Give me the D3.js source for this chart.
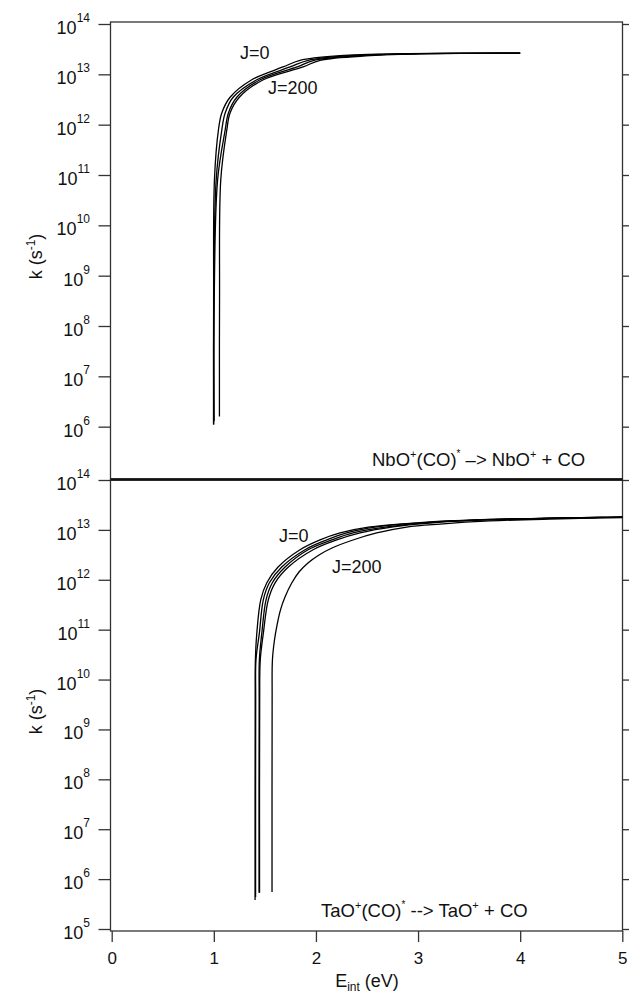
<!DOCTYPE html>
<html>
<head>
<meta charset="utf-8">
<script src="https://cdn.jsdelivr.net/npm/d3@7"></script>
<style>
  body { margin: 0; background: #fff; }
  svg { display: block; }
  text { font-family: "Liberation Sans", Arial, Helvetica, sans-serif; fill: #111; white-space: pre; }
</style>
</head>
<body>
<svg id="chart" width="629" height="994"></svg>
<script>
// ---- data: internal energy (eV) vs unimolecular rate constant k (s^-1) ----
const xTickValues = [0, 1, 2, 3, 4, 5];
const topExponents = [6, 7, 8, 9, 10, 11, 12, 13, 14];
const bottomExponents = [5, 6, 7, 8, 9, 10, 11, 12, 13, 14];

// NbO+(CO)* -> NbO+ + CO, one curve per rotational quantum number J
const nboJ0   = [[0.997,1.1e6],[0.998,3.3e8],[1.006,8.0e10],[1.045,7.8e11],[1.078,1.7e12],[1.159,3.5e12],[1.372,7.8e12],[1.678,1.4e13],[1.844,1.9e13],[2.236,2.35e13],[2.823,2.57e13],[4.0,2.63e13]];
const nboJ100 = [[0.999,1.1e6],[1.000,3.3e8],[1.023,8.0e10],[1.078,7.8e11],[1.111,1.7e12],[1.189,3.5e12],[1.421,7.8e12],[1.747,1.4e13],[1.923,1.9e13],[2.330,2.35e13],[2.920,2.57e13],[4.0,2.63e13]];
const nboJ150 = [[1.003,1.3e6],[1.004,3.3e8],[1.037,8.0e10],[1.111,7.8e11],[1.143,1.7e12],[1.225,3.5e12],[1.453,7.8e12],[1.815,1.4e13],[1.981,1.9e13],[2.430,2.35e13],[3.020,2.57e13],[4.0,2.63e13]];
const nboJ200 = [[1.055,1.6e6],[1.056,3.3e8],[1.068,8.0e10],[1.127,7.8e11],[1.159,1.7e12],[1.250,3.5e12],[1.485,7.8e12],[1.874,1.4e13],[2.040,1.9e13],[2.530,2.35e13],[3.110,2.57e13],[4.0,2.63e13]];

// TaO+(CO)* -> TaO+ + CO
const taoJ0   = [[1.404,3.8e5],[1.405,3.9e9],[1.407,2.5e10],[1.421,8.5e10],[1.460,4.0e11],[1.519,8.7e11],[1.629,1.8e12],[1.844,4.0e12],[2.040,6.3e12],[2.236,8.7e12],[2.529,1.15e13],[3.019,1.4e13],[3.606,1.6e13],[4.193,1.7e13],[4.780,1.78e13],[5.0,1.8e13]];
const taoJ50  = [[1.409,4.4e5],[1.410,3.9e9],[1.413,2.5e10],[1.446,8.5e10],[1.485,4.0e11],[1.544,8.7e11],[1.665,1.8e12],[1.893,4.0e12],[2.106,6.3e12],[2.301,8.7e12],[2.595,1.15e13],[3.070,1.4e13],[3.650,1.6e13],[4.220,1.7e13],[4.780,1.78e13],[5.0,1.8e13]];
const taoJ100 = [[1.443,5.3e5],[1.444,3.9e9],[1.446,2.5e10],[1.470,8.5e10],[1.512,4.0e11],[1.573,8.7e11],[1.698,1.8e12],[1.923,4.0e12],[2.155,6.3e12],[2.363,8.7e12],[2.693,1.15e13],[3.120,1.4e13],[3.680,1.6e13],[4.250,1.7e13],[4.800,1.78e13],[5.0,1.8e13]];
const taoJ150 = [[1.448,5.3e5],[1.449,3.9e9],[1.455,2.5e10],[1.485,8.5e10],[1.534,4.0e11],[1.600,8.7e11],[1.730,1.8e12],[1.972,4.0e12],[2.204,6.3e12],[2.432,8.7e12],[2.754,1.15e13],[3.170,1.4e13],[3.700,1.6e13],[4.270,1.7e13],[4.800,1.78e13],[5.0,1.8e13]];
const taoJ200 = [[1.570,5.5e5],[1.571,3.9e9],[1.574,2.5e10],[1.594,6.2e10],[1.619,1.24e11],[1.653,2.5e11],[1.697,4.5e11],[1.763,8.6e11],[1.834,1.43e12],[1.922,2.17e12],[2.030,3.14e12],[2.157,4.34e12],[2.363,6.27e12],[2.595,8.67e12],[2.888,1.14e13],[3.215,1.31e13],[3.704,1.51e13],[4.292,1.65e13],[5.0,1.77e13]];

const nboCurves = [nboJ0, nboJ100, nboJ150, nboJ200];
const taoCurves = [taoJ0, taoJ50, taoJ100, taoJ150, taoJ200];

// ---- layout ----
const svg = d3.select("#chart");
const FS = 18, FS_TICK_X = 17, FS_SMALL = 12;
const frameLeft = 110.5, frameRight = 622.5;
const panels = [
  { curves: nboCurves, exps: topExponents, frameTop: 22, frameBottom: 479,
    y: d3.scaleLog().domain([1e5, 1e14]).range([477, 24]) },
  { curves: taoCurves, exps: bottomExponents, frameTop: 480, frameBottom: 931,
    y: d3.scaleLog().domain([1e5, 1e14]).range([929, 480]) }
];
const x = d3.scaleLinear().domain([0, 5]).range([111.7, 622.3]);

// text with raised / lowered runs
function richText(parent, px, py, parts, anchor, transform, size) {
  const t = parent.append("text")
    .attr("x", px).attr("y", py)
    .attr("font-size", size || FS)
    .attr("text-anchor", anchor || "start");
  if (transform) t.attr("transform", transform);
  let shift = 0;
  parts.forEach(p => {
    const target = p.sup ? -p.sup : (p.sub ? p.sub : 0);
    const ts = t.append("tspan").attr("dy", target - shift).text(p.t);
    if (p.sup || p.sub) ts.attr("font-size", p.size || FS_SMALL);
    shift = target;
  });
  return t;
}

panels.forEach(p => {
  const g = svg.append("g");
  const ticks = p.exps.map(e => Math.pow(10, e));

  // left axis ticks
  g.append("g")
    .attr("transform", `translate(${frameLeft},0)`)
    .call(d3.axisLeft(p.y).tickValues(ticks).tickSize(12).tickSizeOuter(0).tickFormat(""))
    .call(a => a.select(".domain").remove())
    .selectAll("line").attr("stroke", "#333").attr("stroke-width", 1.3);

  // right axis mirror ticks
  g.append("g")
    .attr("transform", `translate(${frameRight},0)`)
    .call(d3.axisRight(p.y).tickValues(ticks).tickSize(8).tickSizeOuter(0).tickFormat(""))
    .call(a => a.select(".domain").remove())
    .selectAll("line").attr("stroke", "#333").attr("stroke-width", 1.3);

  // decade labels 10^n
  p.exps.forEach(e => {
    richText(g, 90, p.y(Math.pow(10, e)) + 10, [
      { t: "10" }, { t: String(e), sup: 12 }
    ], "end");
  });

  // frame
  g.append("rect")
    .attr("x", frameLeft).attr("y", p.frameTop)
    .attr("width", frameRight - frameLeft).attr("height", p.frameBottom - p.frameTop)
    .attr("fill", "none").attr("stroke", "#333").attr("stroke-width", 1.3);

  // curves
  const line = d3.line()
    .x(d => x(d[0]))
    .y(d => p.y(d[1]))
    .curve(d3.curveCatmullRom.alpha(0.5));
  g.selectAll("path.k").data(p.curves).join("path")
    .attr("class", "k")
    .attr("d", line)
    .attr("fill", "none")
    .attr("stroke", "#000")
    .attr("stroke-width", 1.3);

  // y title
  const cy = (p.frameTop + p.frameBottom) / 2 + 6;
  richText(g, 0, 0, [
    { t: "k (s" }, { t: "-1", sup: 7 }, { t: ")" }
  ], "middle", `translate(42,${cy}) rotate(-90)`);
});

// heavier divider between panels
svg.append("line")
  .attr("x1", frameLeft).attr("x2", frameRight)
  .attr("y1", 479.5).attr("y2", 479.5)
  .attr("stroke", "#111").attr("stroke-width", 2.6);

// x axis (bottom panel)
svg.append("g")
  .attr("transform", "translate(0,931)")
  .call(d3.axisBottom(x).tickValues(xTickValues).tickSize(11).tickPadding(10).tickSizeOuter(0).tickFormat(d3.format("d")))
  .call(a => a.select(".domain").remove())
  .call(a => a.selectAll("line").attr("stroke", "#333").attr("stroke-width", 1.3))
  .call(a => a.selectAll("text").attr("font-size", FS_TICK_X).attr("fill", "#111")
    .attr("font-family", "'Liberation Sans', Arial, sans-serif"));

// x title
richText(svg, 367, 987, [
  { t: "E" }, { t: "int", sub: 4 }, { t: " (eV)" }
], "middle");

// J labels
richText(svg, 240, 59, [{ t: "J=0" }]);
richText(svg, 268, 94, [{ t: "J=200" }]);
richText(svg, 279, 542, [{ t: "J=0" }]);
richText(svg, 332, 573, [{ t: "J=200" }]);

// reaction labels
richText(svg, 372, 466, [
  { t: "NbO" }, { t: "+", sup: 8, size: 11 }, { t: "(CO)" }, { t: "*", sup: 9, size: 10 },
  { t: " \u2013> NbO" }, { t: "+", sup: 8, size: 11 }, { t: " + CO" }
], "start", null, 18.5);
richText(svg, 321, 917, [
  { t: "TaO" }, { t: "+", sup: 8, size: 11 }, { t: "(CO)" }, { t: "*", sup: 9, size: 10 },
  { t: " --> TaO" }, { t: "+", sup: 8, size: 11 }, { t: " + CO" }
], "start", null, 18.5);
</script>
</body>
</html>
